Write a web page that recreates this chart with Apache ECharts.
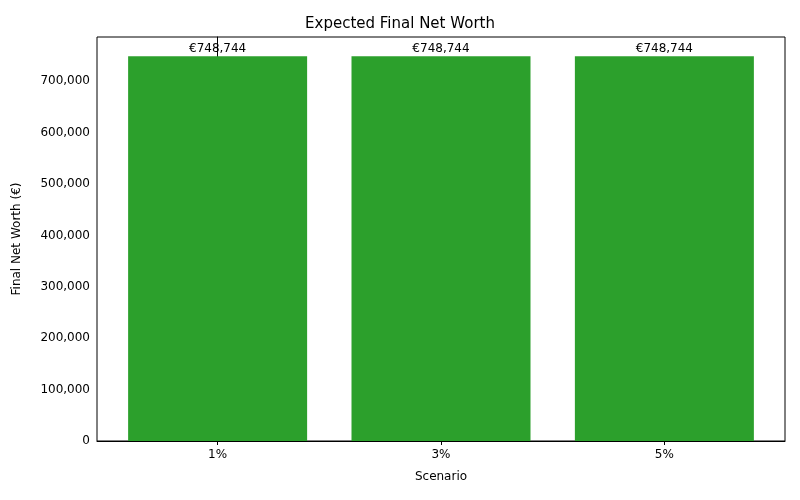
<!DOCTYPE html>
<html><head><meta charset="utf-8">
<script src="https://cdn.jsdelivr.net/npm/echarts@6/dist/echarts.min.js"></script>
<style>html,body{margin:0;padding:0}#c{width:800px;height:500px}</style>
</head><body><div id="c"></div>
<script>
const categories = ['1%', '3%', '5%'];
const values = [748744, 748744, 748744];
const yTicks = [0, 100000, 200000, 300000, 400000, 500000, 600000, 700000];

const chart = echarts.init(document.getElementById('c'));
const font = 'DejaVu Sans';
chart.setOption({
  animation: false,
  textStyle: {fontFamily: font},
  title: {text: 'Expected Final Net Worth', left: 'center', top: 12,
    textStyle: {fontFamily: font, fontSize: 15, fontWeight: 'normal', color: '#000'}},
  grid: {left: 97, right: 15, top: 37, bottom: 59, show: true, borderColor: '#000', borderWidth: 1},
  xAxis: {
    type: 'value', min: -0.54, max: 2.54,
    name: 'Scenario', nameLocation: 'middle', nameGap: 30,
    nameTextStyle: {fontFamily: font, fontSize: 12, color: '#000'},
    splitLine: {show: false},
    axisLine: {show: true, lineStyle: {color: '#000'}},
    axisTick: {show: true, customValues: [0, 1, 2], length: 4, lineStyle: {color: '#000'}},
    axisLabel: {customValues: [0, 1, 2], formatter: v => categories[Math.round(v)],
      color: '#000', fontSize: 12, margin: 8}
  },
  yAxis: {
    type: 'value', min: 0, max: 786181,
    name: 'Final Net Worth (€)', nameLocation: 'middle', nameGap: 74,
    nameTextStyle: {fontFamily: font, fontSize: 12, color: '#000'},
    splitLine: {show: false},
    axisLine: {show: true, lineStyle: {color: '#000'}},
    axisTick: {show: true, customValues: yTicks, length: 4, lineStyle: {color: '#000'}},
    axisLabel: {customValues: yTicks, color: '#000', fontSize: 12, margin: 7}
  },
  series: [{
    type: 'bar',
    data: values.map((v, i) => [i, v]),
    barWidth: 179,
    itemStyle: {color: '#2ca02c'},
    label: {show: true, position: 'top', distance: 1, color: '#000', fontSize: 12,
      formatter: p => '€' + p.value[1].toLocaleString('en-US')}
  }]
});
</script></body></html>
